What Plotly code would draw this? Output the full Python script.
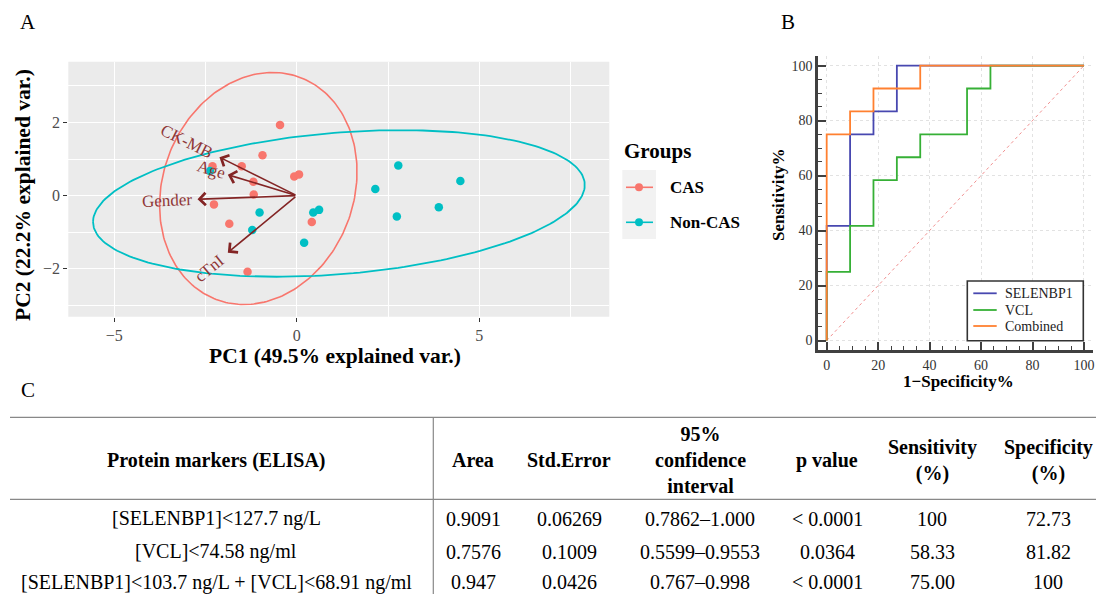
import numpy as np
import plotly.graph_objects as go

W, H = 1096, 594
SERIF = "Liberation Serif, Times New Roman, serif"

# ---------------- Panel A data (PCA biplot) ----------------
cas_pc1 = [-0.46, -0.94, -2.31, -1.51, -0.07, 0.06, -1.19, -1.18, -2.27, -1.85, 0.41, -1.35]
cas_pc2 = [1.93, 1.10, 0.80, 0.80, 0.52, 0.58, 0.38, 0.03, -0.24, -0.77, -0.72, -2.08]
non_pc1 = [-2.38, -1.02, -1.22, 0.20, 0.45, 0.61, 2.15, 2.78, 2.74, 3.89, 4.48]
non_pc2 = [0.67, -0.46, -0.94, -1.29, -0.46, -0.39, 0.18, 0.82, -0.57, -0.32, 0.40]
var_names = ["CK-MB", "Age", "Gender", "cTnI"]
var_pc1 = [-2.12, -1.89, -2.72, -1.89]
var_pc2 = [1.05, 0.57, -0.10, -1.56]
ellipse_prob = 0.99
group_names = ["CAS", "Non-CAS"]
pca_xticks = [-5, 0, 5]
pca_yticks = [-2, 0, 2]

# ---------------- Panel B data (ROC) ----------------
sel_fpr = [0, 0, 9.09, 18.18, 27.27, 100]
sel_tpr = [0, 41.67, 75, 83.33, 100, 100]
vcl_fpr = [0, 0, 9.09, 18.18, 27.27, 36.36, 54.55, 63.64, 100]
vcl_tpr = [0, 25, 41.67, 58.33, 66.67, 75, 91.67, 100, 100]
comb_fpr = [0, 0, 9.09, 18.18, 36.36, 100]
comb_tpr = [0, 75, 83.33, 91.67, 100, 100]
roc_names = ["SELENBP1", "VCL", "Combined"]

# ---------------- Panel C data (table) ----------------
tbl_header = ["Protein markers (ELISA)", "Area", "Std.Error", "95%<br>confidence<br>interval",
              "p value", "Sensitivity<br>(%)", "Specificity<br>(%)"]
tbl_marker = ["[SELENBP1]&lt;127.7 ng/L", "[VCL]&lt;74.58 ng/ml",
              "[SELENBP1]&lt;103.7 ng/L + [VCL]&lt;68.91 ng/ml"]
tbl_area = ["0.9091", "0.7576", "0.947"]
tbl_se = ["0.06269", "0.1009", "0.0426"]
tbl_ci = ["0.7862–1.000", "0.5599–0.9553", "0.767–0.998"]
tbl_p = ["&lt; 0.0001", "0.0364", "&lt; 0.0001"]
tbl_sens = ["100", "58.33", "75.00"]
tbl_spec = ["72.73", "81.82", "100"]

RED, CYAN = "#F8766D", "#00BFC4"
ARROW = "#832424"
BLUE, GREEN, ORANGE = "#4848b0", "#36b036", "#ff8030"


def px(x):
    return x / W


def py(y):
    return 1 - y / H


def ellipse(xs, ys, prob):
    pts = np.column_stack([xs, ys])
    mu = pts.mean(axis=0)
    sigma = np.cov(pts, rowvar=False)
    L = np.linalg.cholesky(sigma)
    ed = np.sqrt(-2 * np.log(1 - prob))
    t = np.linspace(-np.pi, np.pi, 240)
    circ = np.column_stack([np.cos(t), np.sin(t)])
    e = circ @ L.T * ed + mu
    return e[:, 0], e[:, 1]


fig = go.Figure()

# ---- Panel A traces ----
fig.add_trace(go.Scatter(x=cas_pc1, y=cas_pc2, mode="markers", xaxis="x", yaxis="y",
                         marker=dict(color=RED, size=8.5), showlegend=False))
fig.add_trace(go.Scatter(x=non_pc1, y=non_pc2, mode="markers", xaxis="x", yaxis="y",
                         marker=dict(color=CYAN, size=8.5), showlegend=False))
ex, ey = ellipse(cas_pc1, cas_pc2, ellipse_prob)
fig.add_trace(go.Scatter(x=ex, y=ey, mode="lines", xaxis="x", yaxis="y",
                         line=dict(color=RED, width=1.6), showlegend=False))
ex, ey = ellipse(non_pc1, non_pc2, ellipse_prob)
fig.add_trace(go.Scatter(x=ex, y=ey, mode="lines", xaxis="x", yaxis="y",
                         line=dict(color=CYAN, width=1.8), showlegend=False))

# ---- Panel B traces ----
fig.add_trace(go.Scatter(x=[0, 100], y=[0, 100], mode="lines", xaxis="x2", yaxis="y2",
                         line=dict(color="#f09090", width=1, dash="dot"), showlegend=False))
for fx, ty, col in [(sel_fpr, sel_tpr, BLUE), (vcl_fpr, vcl_tpr, GREEN), (comb_fpr, comb_tpr, ORANGE)]:
    fig.add_trace(go.Scatter(x=fx, y=ty, mode="lines", line_shape="hv", xaxis="x2", yaxis="y2",
                             line=dict(color=col, width=1.8), showlegend=False))

annotations = []
shapes = []

# PCA panel background
shapes.append(dict(type="rect", xref="x domain", yref="y domain", x0=0, x1=1, y0=0, y1=1,
                   fillcolor="#EBEBEB", line=dict(width=0), layer="below"))

# variable arrows and labels
label_factor = [1.42, 1.25, 1.31, 1.27]
for name, vx, vy, k in zip(var_names, var_pc1, var_pc2, label_factor):
    annotations.append(dict(x=vx, y=vy, ax=0, ay=0, xref="x", yref="y", axref="x", ayref="y",
                            text="", showarrow=True, arrowhead=4, arrowsize=1.5, arrowwidth=1.6,
                            arrowcolor=ARROW))
    ang = -np.degrees(np.arctan(vy / vx))
    annotations.append(dict(x=vx * k, y=vy * k, xref="x", yref="y", text=name, showarrow=False,
                            textangle=ang, font=dict(family=SERIF, size=17, color="#903838"),
                            xanchor="center", yanchor="middle"))

# PCA legend
shapes.append(dict(type="rect", xref="paper", yref="paper", x0=px(622.3), x1=px(656),
                   y0=py(239), y1=py(170), fillcolor="#F2F2F2", line=dict(width=0)))
for gname, col, yy in zip(group_names, [RED, CYAN], [187.3, 222.3]):
    shapes.append(dict(type="line", xref="paper", yref="paper", x0=px(626), x1=px(653),
                       y0=py(yy), y1=py(yy), line=dict(color=col, width=1.6)))
    shapes.append(dict(type="circle", xref="paper", yref="paper", x0=px(635), x1=px(643),
                       y0=py(yy + 4), y1=py(yy - 4), fillcolor=col, line=dict(width=0)))
    annotations.append(dict(x=px(667.7), y=py(yy), xref="paper", yref="paper", text="<b>%s</b>" % gname,
                            showarrow=False, xanchor="left", yanchor="middle",
                            font=dict(family=SERIF, size=17, color="black")))
annotations.append(dict(x=px(622), y=py(151), xref="paper", yref="paper", text="<b>Groups</b>",
                        showarrow=False, xanchor="left", yanchor="middle",
                        font=dict(family=SERIF, size=21, color="black")))

# PCA axis titles
annotations.append(dict(x=px(335), y=py(356), xref="paper", yref="paper",
                        text="<b>PC1 (49.5% explained var.)</b>", showarrow=False,
                        xanchor="center", yanchor="middle", font=dict(family=SERIF, size=21.5, color="black")))
annotations.append(dict(x=px(23), y=py(195), xref="paper", yref="paper",
                        text="<b>PC2 (22.2% explained var.)</b>", showarrow=False, textangle=-90,
                        xanchor="center", yanchor="middle", font=dict(family=SERIF, size=21.5, color="black")))

# ROC legend
shapes.append(dict(type="rect", xref="paper", yref="paper", x0=px(967.3), x1=px(1083.3),
                   y0=py(340.7), y1=py(281), fillcolor="white", line=dict(color="#333333", width=1.6)))
for nm, col, yy in zip(roc_names, [BLUE, GREEN, ORANGE], [293.3, 310, 326]):
    shapes.append(dict(type="line", xref="paper", yref="paper", x0=px(973.3), x1=px(996.7),
                       y0=py(yy), y1=py(yy), line=dict(color=col, width=1.8)))
    annotations.append(dict(x=px(1002.7), y=py(yy), xref="paper", yref="paper", text=nm,
                            showarrow=False, xanchor="left", yanchor="middle",
                            font=dict(family=SERIF, size=14, color="#222222")))

# ROC axis titles
annotations.append(dict(x=px(778), y=py(195), xref="paper", yref="paper", text="<b>Sensitivity%</b>",
                        showarrow=False, textangle=-90, xanchor="center", yanchor="middle",
                        font=dict(family=SERIF, size=17, color="black")))
annotations.append(dict(x=px(958.7), y=py(381), xref="paper", yref="paper", text="<b>1\u2212Specificity%</b>",
                        showarrow=False, xanchor="center", yanchor="middle",
                        font=dict(family=SERIF, size=17, color="black")))

# panel letters
for letter, lx, ly in [("A", 28, 22), ("B", 788, 22), ("C", 28, 390)]:
    annotations.append(dict(x=px(lx), y=py(ly), xref="paper", yref="paper", text=letter,
                            showarrow=False, xanchor="center", yanchor="middle",
                            font=dict(family=SERIF, size=21, color="black")))

# ---- Table ----
shapes.append(dict(type="line", xref="paper", yref="paper", x0=px(10), x1=1, y0=py(417.3), y1=py(417.3),
                   line=dict(color="#888888", width=1.2)))
shapes.append(dict(type="line", xref="paper", yref="paper", x0=px(10), x1=1, y0=py(499.3), y1=py(499.3),
                   line=dict(color="#888888", width=1.2)))
shapes.append(dict(type="line", xref="paper", yref="paper", x0=px(433.3), x1=px(433.3), y0=0, y1=py(417.3),
                   line=dict(color="#888888", width=1.2)))
col_x = [216, 473, 569, 700, 827, 932, 1048]
for hx, htxt in zip(col_x, tbl_header):
    annotations.append(dict(x=px(hx), y=py(460), xref="paper", yref="paper", text="<b>%s</b>" % htxt,
                            showarrow=False, xanchor="center", yanchor="middle",
                            font=dict(family=SERIF, size=20, color="black")))
row_y = [518.5, 551.5, 582]
columns = [tbl_marker, tbl_area, tbl_se, tbl_ci, tbl_p, tbl_sens, tbl_spec]
for cx, colvals in zip(col_x, columns):
    for ry, val in zip(row_y, colvals):
        annotations.append(dict(x=px(cx), y=py(ry), xref="paper", yref="paper", text=val,
                                showarrow=False, xanchor="center", yanchor="middle",
                                font=dict(family=SERIF, size=20, color="black")))

fig.update_layout(
    width=W, height=H, margin=dict(l=0, r=0, t=0, b=0),
    paper_bgcolor="white", plot_bgcolor="rgba(0,0,0,0)",
    showlegend=False,
    xaxis=dict(domain=[px(68.3), px(609.3)], range=[-6.26, 8.56], tickvals=pca_xticks,
               ticktext=["\u2212" + str(abs(v)) if v < 0 else str(v) for v in pca_xticks],
               showgrid=True, gridcolor="white", gridwidth=1.4, zeroline=False, showline=False,
               ticks="outside", ticklen=4, tickcolor="#333333", tickwidth=1,
               tickfont=dict(family=SERIF, size=16, color="#4d4d4d"),
               minor=dict(tickvals=[-2.5, 2.5, 7.5], showgrid=True, gridcolor="white", gridwidth=0.7, ticks=""),
               anchor="y", fixedrange=True),
    yaxis=dict(domain=[py(316.7), py(61.7)], range=[-3.31, 3.66], tickvals=pca_yticks,
               ticktext=["\u2212" + str(abs(v)) if v < 0 else str(v) for v in pca_yticks],
               showgrid=True, gridcolor="white", gridwidth=1.4, zeroline=False, showline=False,
               ticks="outside", ticklen=4, tickcolor="#333333", tickwidth=1,
               tickfont=dict(family=SERIF, size=16, color="#4d4d4d"),
               minor=dict(tickvals=[-3, -1, 1, 3], showgrid=True, gridcolor="white", gridwidth=0.7, ticks=""),
               anchor="x", fixedrange=True),
    xaxis2=dict(domain=[px(818.3), px(1093)], range=[-3.26, 103.5], tick0=0, dtick=20,
                showgrid=True, gridcolor="#e2e2e2", griddash="dot", gridwidth=1, zeroline=False,
                showline=True, linecolor="#404040", linewidth=3,
                ticks="inside", ticklen=8, tickcolor="#404040", tickwidth=1.5,
                minor=dict(dtick=5, tick0=0, ticks="inside", ticklen=4, tickcolor="#404040", tickwidth=1.2,
                           showgrid=False),
                tickfont=dict(family=SERIF, size=14, color="#333333"),
                anchor="y2", fixedrange=True),
    yaxis2=dict(domain=[py(350), py(55.7)], range=[-3.45, 103.6], tick0=0, dtick=20,
                showgrid=True, gridcolor="#e2e2e2", griddash="dot", gridwidth=1, zeroline=False,
                showline=True, linecolor="#404040", linewidth=3,
                ticks="inside", ticklen=8, tickcolor="#404040", tickwidth=1.5,
                minor=dict(dtick=5, tick0=0, ticks="inside", ticklen=4, tickcolor="#404040", tickwidth=1.2,
                           showgrid=False),
                tickfont=dict(family=SERIF, size=14, color="#333333"),
                anchor="x2", fixedrange=True),
    shapes=shapes,
    annotations=annotations,
)

fig.write_html("out.html", config={"displayModeBar": False},
               post_script="document.body.style.margin='0';document.body.style.overflow='hidden';")
